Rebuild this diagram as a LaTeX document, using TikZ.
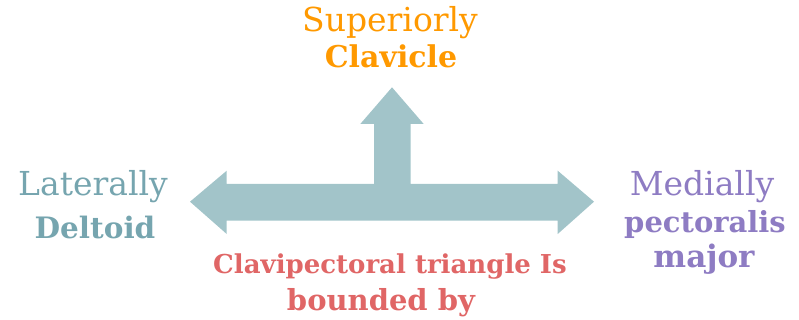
\documentclass[tikz,border=0pt]{standalone}
\usepackage{fontspec}
\setmainfont{DejaVu Serif}
\definecolor{arrowc}{HTML}{A2C4C9}
\definecolor{tealc}{HTML}{76A5AF}
\definecolor{orangec}{HTML}{FF9900}
\definecolor{redc}{HTML}{E06666}
\definecolor{purplec}{HTML}{8E7CC3}
\newcommand{\fsz}[1]{\fontsize{#1}{#1}\selectfont}
\begin{document}
\begin{tikzpicture}[x=1pt,y=-1pt,
  lbl/.style={anchor=base,inner sep=0pt,font=\fsz{33}},
  blbl/.style={anchor=base,inner sep=0pt,font=\fsz{30}\bfseries}]
\useasboundingbox (0,0) rectangle (799,320);
\fill[arrowc] (190,201.7) -- (226.7,170.7) -- (226.7,184) -- (374,184) -- (374,124) -- (360.3,124) -- (392,87.3) -- (423.7,124) -- (410.7,124) -- (410.7,184) -- (557.7,184) -- (557.7,170.7) -- (594,201.7) -- (557.7,234) -- (557.7,220.7) -- (226.7,220.7) -- (226.7,234) -- cycle;
\node[lbl,text=orangec] (sup) at (390,32) {Superiorly};
\node[blbl,text=orangec] (clav) at (391,68) {Clavicle};
\node[lbl,text=tealc] (lat) at (93,196) {Laterally};
\node[blbl,text=tealc,font=\fsz{29.5}\bfseries] (delt) at (95,238) {Deltoid};
\node[lbl,text=purplec] (med) at (702,196) {Medially};
\node[blbl,text=purplec,font=\fsz{29}\bfseries] (pect) at (705,233) {pectoralis};
\node[blbl,text=purplec,font=\fsz{31}\bfseries] (maj) at (704,267) {major};
\node[blbl,text=redc,font=\fsz{26}\bfseries] (tri) at (390,273) {Clavipectoral triangle Is};
\node[blbl,text=redc,font=\fsz{29}\bfseries] (bnd) at (381,310) {bounded by};
\end{tikzpicture}
\end{document}
